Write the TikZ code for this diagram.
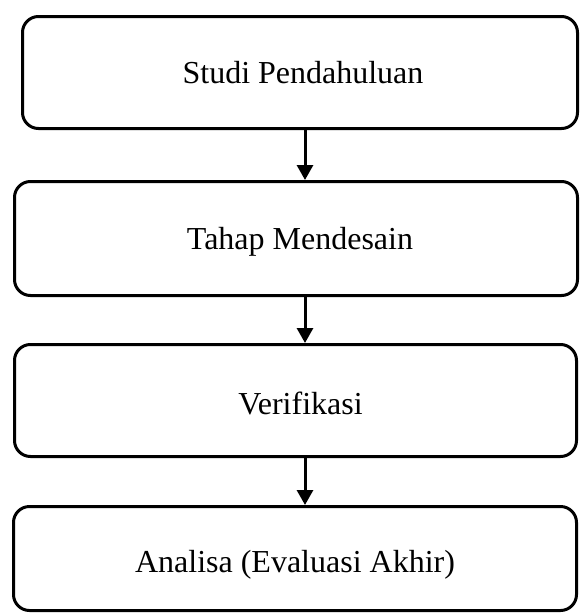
\documentclass[tikz,border=0pt]{standalone}
\usepackage{fontspec}
\setmainfont{Liberation Serif}
\usetikzlibrary{arrows.meta}

\begin{document}
\begin{tikzpicture}[x=1pt,y=-1pt,
  tahap/.style={draw,line width=3pt,rounded corners=16pt,inner sep=0pt,
    font=\fontsize{32}{38}\selectfont},
  alur/.style={line width=3pt,-{Triangle[width=16pt,length=15pt]}}]
\useasboundingbox (0,0) rectangle (580,613);

%Stages of the method
\node[tahap,minimum width=555pt,minimum height=112pt] (studi) at (300,72.5){\hspace{6pt}Studi Pendahuluan};
\node[tahap,minimum width=563pt,minimum height=114pt,text height=28pt] (desain) at (296,238.5){\hspace{8pt}Tahap Mendesain};
\node[tahap,minimum width=562pt,minimum height=112pt,text height=28pt] (verif) at (295.5,400.5){\hspace{10pt}Verifikasi};
\node[tahap,minimum width=563pt,minimum height=104pt,text height=34pt] (analisa) at (295,558.5){Analisa (Evaluasi Akhir)};

%Flow between the stages
\coordinate (sumbu) at (305,0);
\draw[alur] (studi.south -| sumbu)--(desain.north -| sumbu);
\draw[alur] (desain.south -| sumbu)--(verif.north -| sumbu);
\draw[alur] (verif.south -| sumbu)--(analisa.north -| sumbu);

\end{tikzpicture}
\end{document}
